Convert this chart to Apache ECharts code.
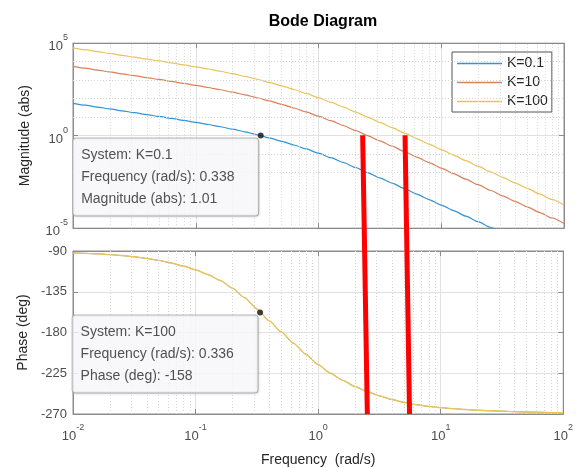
<!DOCTYPE html>
<html>
<head>
<meta charset="utf-8">
<script src="https://cdn.jsdelivr.net/npm/echarts@6/dist/echarts.min.js"></script>
<style>
html,body{margin:0;padding:0;background:#fff;}
#chart{width:576px;height:468px;}
</style>
</head>
<body>
<div id="chart"></div>
<script>
// ---- data ----
const seriesNames = ['K=0.1', 'K=10', 'K=100'];
const freq = [0.01, 0.01259, 0.01585, 0.01995, 0.02512, 0.03162, 0.03981, 0.05012, 0.0631, 0.07943,
  0.1, 0.1259, 0.1585, 0.1995, 0.2512, 0.3162, 0.3981, 0.5012, 0.631, 0.7943,
  1, 1.259, 1.585, 1.995, 2.512, 3.162, 3.981, 5.012, 6.31, 7.943,
  10, 12.59, 15.85, 19.95, 25.12, 31.62, 39.81, 50.12, 63.1, 79.43, 100];
const magK01 = [55.96, 44.43, 35.28, 27.99, 22.20, 17.59, 13.92, 10.99, 8.644, 6.763,
  5.250, 4.029, 3.041, 2.246, 1.616, 1.127, 0.7613, 0.4970, 0.3138, 0.1917,
  0.1132, 0.06470, 0.03584, 0.01934, 0.01021, 0.005300, 0.002720, 0.001384, 7.006e-4, 3.534e-4,
  1.778e-4, 8.935e-5, 4.486e-5, 2.251e-5, 1.128e-5, 5.657e-6, 2.838e-6, 1.423e-6, 7.134e-7, 3.575e-7, 1.792e-7];
const magK10 = [5596, 4443, 3528, 2799, 2220, 1759, 1392, 1099, 864.4, 676.3,
  525.0, 402.9, 304.1, 224.6, 161.6, 112.7, 76.13, 49.70, 31.38, 19.17,
  11.32, 6.470, 3.584, 1.934, 1.021, 0.5300, 0.2720, 0.1384, 0.07006, 0.03534,
  0.01778, 0.008935, 0.004486, 0.002251, 0.001128, 5.657e-4, 2.838e-4, 1.423e-4, 7.134e-5, 3.575e-5, 1.792e-5];
const magK100 = [55960, 44430, 35280, 27990, 22200, 17590, 13920, 10990, 8644, 6763,
  5250, 4029, 3041, 2246, 1616, 1127, 761.3, 497.0, 313.8, 191.7,
  113.2, 64.70, 35.84, 19.34, 10.21, 5.300, 2.720, 1.384, 0.7006, 0.3534,
  0.1778, 0.08935, 0.04486, 0.02251, 0.01128, 0.005657, 0.002838, 0.001423, 7.134e-4, 3.575e-4, 1.792e-4];
const phaseDeg = [-92.0, -92.6, -93.2, -94.0, -95.0, -96.4, -98.2, -100.4, -103.2, -106.6,
  -110.8, -116.0, -122.5, -131.0, -141.5, -154.0, -167.0, -179.5, -192.0, -204.0,
  -215.5, -225.0, -232.8, -239.6, -245.2, -250.0, -254.0, -257.2, -259.7, -261.6,
  -263.0, -264.1, -265.0, -265.8, -266.4, -266.9, -267.4, -267.8, -268.1, -268.4, -268.6];
const magTicks = [1e-5, 1, 1e5];
const magMinorGrid = [1e-4, 1e-3, 1e-2, 1e-1, 10, 100, 1e3, 1e4];
const phaseTicks = [-270, -225, -180, -135, -90];
const freqTicks = [0.01, 0.1, 1, 10, 100];
const freqMinorGrid = [0.02,0.03,0.04,0.05,0.06,0.07,0.08,0.09, 0.2,0.3,0.4,0.5,0.6,0.7,0.8,0.9, 2,3,4,5,6,7,8,9, 20,30,40,50,60,70,80,90];
// data tips
const magTip = { system: 'K=0.1', freq: 0.338, value: 1.01 };
const phaseTip = { system: 'K=100', freq: 0.336, value: -158 };
// hand-drawn red marks (data coordinates of their ends)
const redLines = [
  { topFreq: 2.29, topMag: 1.05, botFreq: 2.52, botPhase: -270 },
  { topFreq: 5.07, topMag: 1.05, botFreq: 5.57, botPhase: -270 }
];
const colors = ['#3294d2', '#d9825a', '#e9c457'];

// ---- chart ----
const FONT = '"Liberation Sans", Arial, Helvetica, sans-serif';
const chart = echarts.init(document.getElementById('chart'), null, { renderer: 'canvas' });

function pow10Label(v) {
  const e = Math.round(Math.log10(v));
  return '{b|10}{s|' + e + '}';
}
const powRich = {
  b: { fontSize: 13, color: '#4d4d4d', fontFamily: FONT, lineHeight: 20, verticalAlign: 'bottom' },
  s: { fontSize: 9, color: '#4d4d4d', fontFamily: FONT, lineHeight: 20, verticalAlign: 'top' }
};

function pairs(ys) { return freq.map((f, i) => [f, ys[i]]); }

const gridLeft = 73, gridRight = 12;
const tipLabel = {
  show: true,
  position: [-184.5, 6],
  align: 'left',
  verticalAlign: 'top',
  width: 168,
  fontSize: 14,
  lineHeight: 22,
  fontFamily: FONT,
  color: '#262626',
  backgroundColor: '#fbfbfe',
  borderColor: '#a8a8a8',
  borderWidth: 1,
  borderRadius: 3,
  padding: [6, 9, 5, 8],
  shadowBlur: 2,
  shadowOffsetX: 1,
  shadowOffsetY: 1,
  shadowColor: 'rgba(0,0,0,0.1)'
};

const magSeries = [magK01, magK10, magK100].map((m, i) => ({
  name: seriesNames[i], type: 'line', xAxisIndex: 0, yAxisIndex: 0,
  data: pairs(m), symbol: 'none', smooth: 0.2, smoothMonotone: 'x', clip: true,
  lineStyle: { color: colors[i], width: 1.2 }, itemStyle: { color: colors[i] }, z: 3
}));
const phaseSeries = seriesNames.map((n, i) => ({
  name: n, type: 'line', xAxisIndex: 1, yAxisIndex: 1,
  data: pairs(phaseDeg), symbol: 'none', smooth: 0.2, smoothMonotone: 'x', clip: true,
  lineStyle: { color: colors[i], width: i === 2 ? 1.35 : 0.5 }, itemStyle: { color: colors[i] }, z: 3
}));

const minorLineStyle = { type: [1, 2], color: '#d6d6d6', width: 1 };
const gridHelpers = [
  {
    name: 'minorTop', type: 'line', xAxisIndex: 0, yAxisIndex: 0, data: [], z: 1, silent: true,
    markLine: {
      silent: true, symbol: 'none', label: { show: false }, animation: false,
      lineStyle: minorLineStyle,
      data: freqMinorGrid.map(v => ({ xAxis: v })).concat(magMinorGrid.map(v => ({ yAxis: v })))
    }
  },
  {
    name: 'minorBottom', type: 'line', xAxisIndex: 1, yAxisIndex: 1, data: [], z: 1, silent: true,
    markLine: {
      silent: true, symbol: 'none', label: { show: false }, animation: false,
      lineStyle: minorLineStyle,
      data: freqMinorGrid.map(v => ({ xAxis: v }))
    }
  }
];

const tipSeries = [
  {
    name: 'tipMag', type: 'scatter', xAxisIndex: 0, yAxisIndex: 0,
    data: [[magTip.freq, magTip.value]], symbolSize: 6, itemStyle: { color: '#111' }, z: 6,
    label: Object.assign({}, tipLabel, {
      formatter: () => 'System: ' + magTip.system + '\nFrequency (rad/s): ' + magTip.freq + '\nMagnitude (abs): ' + magTip.value
    })
  },
  {
    name: 'tipPhase', type: 'scatter', xAxisIndex: 1, yAxisIndex: 1,
    data: [[phaseTip.freq, phaseTip.value]], symbolSize: 6, itemStyle: { color: '#111' }, z: 6,
    label: Object.assign({}, tipLabel, {
      formatter: () => 'System: ' + phaseTip.system + '\nFrequency (rad/s): ' + phaseTip.freq + '\nPhase (deg): ' + phaseTip.value
    })
  }
];

const axisLineStyle = { color: '#8c8c8c', width: 1 };
const majorSplit = { show: true, lineStyle: { color: '#e2e2e2', width: 1 } };
const tickOnly = { show: true, inside: true, length: 5, lineStyle: axisLineStyle };

function mirrorX(gridIndex) {
  return {
    type: 'log', logBase: 10, gridIndex: gridIndex, position: 'top',
    min: freqTicks[0], max: freqTicks[freqTicks.length - 1],
    axisLine: { show: true, lineStyle: axisLineStyle }, axisTick: tickOnly,
    axisLabel: { show: false }, splitLine: { show: false }
  };
}

const option = {
  animation: false,
  backgroundColor: '#ffffff',
  title: {
    text: 'Bode Diagram', left: 318, top: 9, textAlign: 'center',
    textStyle: { fontSize: 16, fontWeight: 'bold', color: '#000', fontFamily: FONT }
  },
  legend: {
    data: seriesNames, orient: 'vertical', left: 452, top: 52,
    icon: 'rect',
    backgroundColor: '#fff', borderColor: '#555', borderWidth: 1, borderRadius: 0,
    padding: [4, 4, 3, 5], itemGap: 4, itemWidth: 45, itemHeight: 1.5,
    textStyle: { fontSize: 14, color: '#262626', fontFamily: FONT, lineHeight: 15 }
  },
  grid: [
    { left: gridLeft, right: gridRight, top: 43.2, height: 185, show: true, borderColor: '#8c8c8c', borderWidth: 1, backgroundColor: '#fff' },
    { left: gridLeft, right: gridRight, top: 251, height: 165, show: true, borderColor: '#8c8c8c', borderWidth: 1, backgroundColor: '#fff' }
  ],
  xAxis: [
    {
      type: 'log', logBase: 10, gridIndex: 0, min: freqTicks[0], max: freqTicks[freqTicks.length - 1],
      axisLine: { show: true, lineStyle: axisLineStyle }, axisTick: tickOnly,
      axisLabel: { show: false }, splitLine: majorSplit
    },
    {
      type: 'log', logBase: 10, gridIndex: 1, min: freqTicks[0], max: freqTicks[freqTicks.length - 1],
      axisLine: { show: true, lineStyle: axisLineStyle }, axisTick: tickOnly,
      axisLabel: { show: true, margin: 9, formatter: pow10Label, rich: powRich },
      splitLine: majorSplit,
      name: 'Frequency  (rad/s)', nameLocation: 'middle', nameGap: 39,
      nameTextStyle: { fontSize: 14, color: '#262626', fontFamily: FONT }
    },
    mirrorX(0),
    mirrorX(1)
  ],
  yAxis: [
    {
      type: 'log', logBase: 10, gridIndex: 0, min: magTicks[0], max: magTicks[magTicks.length - 1],
      axisLine: { show: true, lineStyle: axisLineStyle }, axisTick: tickOnly,
      axisLabel: { show: true, margin: 5, formatter: pow10Label, rich: powRich },
      splitLine: majorSplit,
      name: 'Magnitude (abs)', nameLocation: 'middle', nameGap: 41,
      nameTextStyle: { fontSize: 14, color: '#262626', fontFamily: FONT }
    },
    {
      type: 'value', gridIndex: 1, min: phaseTicks[0], max: phaseTicks[phaseTicks.length - 1], interval: 45,
      axisLine: { show: true, lineStyle: axisLineStyle }, axisTick: tickOnly,
      axisLabel: { show: true, margin: 6, fontSize: 13, color: '#4d4d4d', fontFamily: FONT },
      splitLine: majorSplit,
      name: 'Phase (deg)', nameLocation: 'middle', nameGap: 41,
      nameTextStyle: { fontSize: 14, color: '#262626', fontFamily: FONT }
    },
    {
      type: 'log', logBase: 10, gridIndex: 0, position: 'right', min: magTicks[0], max: magTicks[magTicks.length - 1],
      axisLine: { show: true, lineStyle: axisLineStyle }, axisTick: tickOnly,
      axisLabel: { show: false }, splitLine: { show: false }
    },
    {
      type: 'value', gridIndex: 1, position: 'right', min: phaseTicks[0], max: phaseTicks[phaseTicks.length - 1], interval: 45,
      axisLine: { show: true, lineStyle: axisLineStyle }, axisTick: tickOnly,
      axisLabel: { show: false }, splitLine: { show: false }
    }
  ],
  series: gridHelpers.concat(magSeries, phaseSeries, tipSeries)
};
chart.setOption(option);

// red hand-drawn marks, placed through the axes' own scales
const redGraphics = redLines.map(r => {
  const a = chart.convertToPixel({ xAxisIndex: 0, yAxisIndex: 0 }, [r.topFreq, r.topMag]);
  const b = chart.convertToPixel({ xAxisIndex: 1, yAxisIndex: 1 }, [r.botFreq, r.botPhase]);
  return {
    type: 'line', z: 100,
    shape: { x1: a[0], y1: a[1], x2: b[0], y2: b[1] },
    style: { stroke: '#ff0000', lineWidth: 5 }
  };
});
chart.setOption({ graphic: redGraphics });
</script>
</body>
</html>
